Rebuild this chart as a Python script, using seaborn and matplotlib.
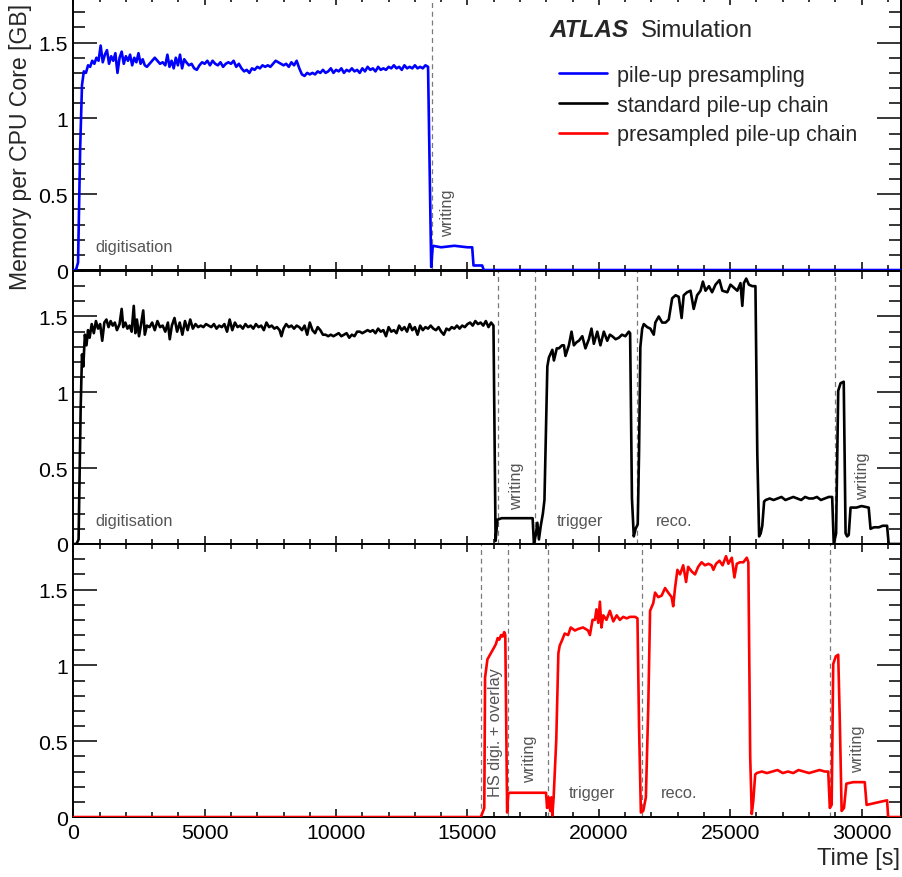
import matplotlib
matplotlib.use("Agg")
import matplotlib.pyplot as plt
import seaborn as sns
from matplotlib.lines import Line2D
from matplotlib.ticker import MultipleLocator, FuncFormatter

# --- pile-up presampling (top panel) ---
t_pre = [0, 100, 180, 260, 330, 400, 480, 560, 640, 720,
         800, 880, 960, 1040, 1120, 1200, 1280, 1360, 1440, 1520,
         1600, 1680, 1760, 1840, 1920, 2000, 2080, 2160, 2240, 2320,
         2400, 2480, 2560, 2640, 2720, 2800, 2900, 3000, 3100, 3200,
         3300, 3400, 3500, 3580, 3660, 3740, 3820, 3900, 3980, 4060,
         4140, 4220, 4300, 4400, 4500, 4600, 4700, 4800, 4900, 5000,
         5100, 5200, 5300, 5400, 5500, 5600, 5700, 5800, 5900, 6000,
         6100, 6200, 6300, 6400, 6500, 6600, 6700, 6800, 6900, 7000,
         7100, 7200, 7300, 7400, 7500, 7600, 7700, 7800, 7900, 8000,
         8100, 8200, 8300, 8400, 8500, 8600, 8700, 8800, 8900, 9000,
         9100, 9200, 9300, 9400, 9500, 9600, 9700, 9800, 9900, 10000,
         10100, 10200, 10300, 10400, 10500, 10600, 10700, 10800, 10900, 11000,
         11100, 11200, 11300, 11400, 11500, 11600, 11700, 11800, 11900, 12000,
         12100, 12200, 12300, 12400, 12500, 12600, 12700, 12800, 12900, 13000,
         13100, 13200, 13300, 13400, 13500, 13620, 13680, 14000, 14500, 15000,
         15180, 15230, 15560, 15620, 31500]
mem_pre = [0.00, 0.00, 0.05, 0.80, 1.22, 1.31, 1.30, 1.35, 1.34, 1.38,
           1.36, 1.40, 1.38, 1.48, 1.37, 1.42, 1.45, 1.36, 1.41, 1.38,
           1.43, 1.30, 1.40, 1.44, 1.36, 1.41, 1.38, 1.42, 1.35, 1.40,
           1.37, 1.43, 1.36, 1.39, 1.35, 1.34, 1.36, 1.38, 1.40, 1.38,
           1.36, 1.37, 1.35, 1.42, 1.34, 1.38, 1.33, 1.40, 1.35, 1.42,
           1.33, 1.39, 1.37, 1.35, 1.36, 1.33, 1.32, 1.35, 1.37, 1.36,
           1.38, 1.35, 1.38, 1.36, 1.35, 1.37, 1.34, 1.36, 1.37, 1.36,
           1.38, 1.34, 1.36, 1.33, 1.31, 1.32, 1.30, 1.33, 1.32, 1.34,
           1.33, 1.35, 1.34, 1.35, 1.34, 1.36, 1.38, 1.37, 1.36, 1.35,
           1.36, 1.34, 1.37, 1.35, 1.38, 1.33, 1.29, 1.28, 1.30, 1.29,
           1.30, 1.29, 1.31, 1.30, 1.32, 1.30, 1.31, 1.33, 1.30, 1.32,
           1.31, 1.33, 1.30, 1.32, 1.31, 1.33, 1.31, 1.32, 1.30, 1.33,
           1.31, 1.34, 1.32, 1.33, 1.31, 1.34, 1.32, 1.33, 1.32, 1.34,
           1.33, 1.35, 1.33, 1.34, 1.32, 1.35, 1.33, 1.34, 1.33, 1.35,
           1.33, 1.34, 1.33, 1.35, 1.34, 0.02, 0.16, 0.15, 0.16, 0.15,
           0.15, 0.03, 0.03, 0.00, 0.00]

# --- standard pile-up chain (middle panel) ---
t_std = [0, 120, 200, 280, 330, 380, 440, 500, 560, 620,
         700, 780, 860, 940, 1020, 1100, 1180, 1260, 1340, 1420,
         1500, 1580, 1660, 1760, 1840, 1900, 1980, 2060, 2140, 2220,
         2300, 2360, 2420, 2500, 2580, 2660, 2720, 2800, 2900, 3000,
         3100, 3200, 3300, 3400, 3500, 3600, 3670, 3750, 3850, 3950,
         4050, 4150, 4250, 4350, 4450, 4550, 4650, 4750, 4850, 4950,
         5050, 5150, 5250, 5350, 5450, 5550, 5650, 5750, 5850, 5950,
         6050, 6150, 6250, 6350, 6450, 6550, 6650, 6750, 6850, 6950,
         7050, 7150, 7250, 7350, 7450, 7550, 7650, 7750, 7850, 7920,
         8000, 8100, 8200, 8300, 8400, 8500, 8600, 8700, 8800, 8900,
         9000, 9100, 9200, 9300, 9400, 9500, 9600, 9700, 9800, 9900,
         10000, 10100, 10200, 10300, 10400, 10500, 10600, 10700, 10800, 10900,
         11000, 11100, 11200, 11300, 11400, 11500, 11600, 11700, 11800, 11900,
         12000, 12100, 12200, 12300, 12400, 12500, 12600, 12700, 12800, 12900,
         13000, 13100, 13200, 13300, 13400, 13500, 13600, 13700, 13800, 13900,
         14000, 14100, 14200, 14300, 14400, 14500, 14600, 14700, 14800, 14900,
         15000, 15100, 15200, 15300, 15400, 15500, 15600, 15700, 15800, 15900,
         15990, 16070, 16140, 16300, 16600, 16900, 17200, 17480, 17530, 17600,
         17660, 17720, 17790, 17870, 17930, 18040, 18100, 18230, 18290, 18400,
         18480, 18600, 18670, 18730, 18860, 18960, 19050, 19150, 19240, 19370,
         19490, 19620, 19720, 19810, 19940, 20060, 20190, 20320, 20420, 20510,
         20640, 20760, 20880, 21010, 21140, 21190, 21260, 21330, 21400, 21480,
         21530, 21580, 21650, 21710, 21840, 21960, 22090, 22150, 22280, 22410,
         22540, 22660, 22790, 22920, 23040, 23150, 23230, 23360, 23490, 23610,
         23740, 23870, 23960, 24060, 24190, 24310, 24440, 24590, 24700, 24890,
         25010, 25140, 25270, 25390, 25460, 25520, 25610, 25710, 25840, 25960,
         26030, 26100, 26160, 26220, 26290, 26350, 26500, 26650, 26800, 26950,
         27100, 27250, 27400, 27550, 27700, 27850, 28000, 28150, 28300, 28450,
         28600, 28750, 28880, 28940, 29030, 29110, 29200, 29320, 29390, 29450,
         29510, 29580, 29800, 30000, 30270, 30340, 30470, 30660, 30800, 30970,
         31030, 31500]
mem_std = [0.00, 0.00, 0.03, 0.90, 1.25, 1.17, 1.38, 1.31, 1.41, 1.36,
           1.45, 1.39, 1.47, 1.42, 1.45, 1.34, 1.46, 1.48, 1.43, 1.47,
           1.44, 1.46, 1.41, 1.45, 1.55, 1.43, 1.46, 1.42, 1.44, 1.40,
           1.57, 1.39, 1.48, 1.37, 1.45, 1.54, 1.38, 1.44, 1.43, 1.46,
           1.41, 1.47, 1.43, 1.44, 1.40, 1.46, 1.35, 1.44, 1.49, 1.40,
           1.46, 1.38, 1.47, 1.41, 1.48, 1.42, 1.45, 1.43, 1.44, 1.43,
           1.45, 1.44, 1.43, 1.45, 1.42, 1.44, 1.43, 1.45, 1.40, 1.48,
           1.41, 1.46, 1.43, 1.44, 1.42, 1.45, 1.43, 1.44, 1.42, 1.45,
           1.43, 1.44, 1.41, 1.46, 1.43, 1.44, 1.42, 1.43, 1.41, 1.37,
           1.42, 1.45, 1.43, 1.44, 1.42, 1.44, 1.43, 1.41, 1.44, 1.38,
           1.46, 1.41, 1.39, 1.43, 1.41, 1.38, 1.38, 1.37, 1.38, 1.37,
           1.38, 1.39, 1.37, 1.38, 1.39, 1.36, 1.38, 1.37, 1.40, 1.40,
           1.39, 1.40, 1.41, 1.40, 1.41, 1.39, 1.42, 1.40, 1.41, 1.37,
           1.43, 1.40, 1.41, 1.39, 1.44, 1.41, 1.43, 1.40, 1.45, 1.41,
           1.43, 1.38, 1.44, 1.41, 1.43, 1.42, 1.44, 1.42, 1.41, 1.43,
           1.40, 1.38, 1.42, 1.41, 1.43, 1.42, 1.44, 1.42, 1.44, 1.43,
           1.45, 1.46, 1.44, 1.47, 1.45, 1.46, 1.44, 1.47, 1.43, 1.46,
           1.44, 0.02, 0.16, 0.17, 0.17, 0.17, 0.17, 0.17, 0.00, 0.06,
           0.14, 0.03, 0.12, 0.20, 0.29, 1.17, 1.23, 1.28, 1.21, 1.29,
           1.29, 1.31, 1.31, 1.24, 1.31, 1.40, 1.31, 1.33, 1.34, 1.37,
           1.29, 1.35, 1.42, 1.32, 1.40, 1.31, 1.40, 1.34, 1.38, 1.37,
           1.35, 1.36, 1.38, 1.37, 1.40, 1.39, 0.30, 0.05, 0.10, 0.13,
           0.60, 1.30, 1.42, 1.45, 1.43, 1.42, 1.38, 1.46, 1.50, 1.46,
           1.46, 1.48, 1.62, 1.64, 1.63, 1.49, 1.64, 1.66, 1.67, 1.55,
           1.64, 1.67, 1.73, 1.67, 1.70, 1.66, 1.71, 1.74, 1.67, 1.66,
           1.71, 1.69, 1.67, 1.72, 1.57, 1.72, 1.75, 1.71, 1.70, 1.70,
           0.60, 0.05, 0.07, 0.12, 0.28, 0.29, 0.30, 0.29, 0.30, 0.31,
           0.29, 0.30, 0.31, 0.30, 0.29, 0.31, 0.30, 0.30, 0.31, 0.29,
           0.30, 0.31, 0.31, 0.00, 0.07, 1.01, 1.06, 1.07, 0.07, 0.05,
           0.06, 0.24, 0.24, 0.25, 0.24, 0.10, 0.11, 0.11, 0.12, 0.12,
           0.00, 0.00]

# --- presampled pile-up chain (bottom panel) ---
t_pres = [0, 15510, 15640, 15670, 15760, 15890, 16020, 16080, 16150, 16210,
          16280, 16340, 16400, 16440, 16480, 16510, 16550, 16600, 16900, 17200,
          17500, 17800, 17990, 18030, 18090, 18150, 18190, 18230, 18280, 18380,
          18460, 18510, 18610, 18700, 18830, 18930, 19090, 19210, 19400, 19590,
          19660, 19760, 19850, 19910, 19980, 20040, 20100, 20170, 20290, 20420,
          20550, 20680, 20800, 20930, 21060, 21190, 21380, 21470, 21530, 21600,
          21690, 21790, 21880, 21950, 22070, 22140, 22260, 22390, 22520, 22640,
          22770, 22830, 22900, 22990, 23090, 23210, 23320, 23400, 23530, 23660,
          23780, 23910, 24040, 24170, 24290, 24360, 24460, 24590, 24710, 24840,
          24930, 25060, 25160, 25250, 25370, 25500, 25630, 25690, 25760, 25820,
          25880, 25950, 26010, 26200, 26400, 26600, 26800, 27000, 27200, 27400,
          27600, 27800, 28000, 28200, 28400, 28600, 28730, 28790, 28860, 28920,
          29020, 29110, 29170, 29240, 29330, 29420, 29680, 29900, 30120, 30190,
          30440, 30700, 30970, 31010, 31500]
mem_pres = [0.00, 0.00, 0.06, 0.92, 1.04, 1.08, 1.12, 1.14, 1.18, 1.17,
            1.20, 1.19, 1.22, 1.20, 0.50, 0.03, 0.15, 0.16, 0.16, 0.16,
            0.16, 0.16, 0.16, 0.06, 0.13, 0.04, 0.13, 0.01, 0.13, 0.51,
            1.08, 1.13, 1.17, 1.21, 1.20, 1.25, 1.23, 1.24, 1.25, 1.23,
            1.20, 1.30, 1.30, 1.37, 1.28, 1.42, 1.25, 1.33, 1.30, 1.36,
            1.29, 1.33, 1.30, 1.32, 1.31, 1.32, 1.32, 1.31, 0.60, 0.03,
            0.04, 0.13, 0.72, 1.36, 1.41, 1.48, 1.45, 1.46, 1.51, 1.48,
            1.45, 1.39, 1.51, 1.63, 1.60, 1.66, 1.55, 1.65, 1.62, 1.60,
            1.65, 1.68, 1.66, 1.67, 1.66, 1.63, 1.67, 1.69, 1.66, 1.72,
            1.67, 1.71, 1.58, 1.67, 1.68, 1.68, 1.71, 1.68, 0.40, 0.02,
            0.11, 0.28, 0.29, 0.30, 0.29, 0.30, 0.31, 0.29, 0.30, 0.29,
            0.31, 0.30, 0.29, 0.30, 0.31, 0.30, 0.30, 0.06, 0.08, 1.01,
            1.06, 1.07, 0.64, 0.04, 0.06, 0.22, 0.23, 0.23, 0.23, 0.08,
            0.09, 0.10, 0.11, 0.00, 0.00]

# phase boundaries (dashed lines) per panel
bounds_pre = [13640]
bounds_std = [16170, 17580, 21460, 28980]
bounds_pres = [15510, 16550, 18050, 21650, 28790]

# phase labels: (text, x, y, vertical?)
labels_pre = [("digitisation", 830, 0.127, False), ("writing", 14410, 0.226, True)]
labels_std = [("digitisation", 830, 0.127, False), ("writing", 17035, 0.23, True),
              ("trigger", 18390, 0.127, False), ("reco.", 22170, 0.127, False),
              ("writing", 30200, 0.296, True)]
labels_pres = [("HS digi. + overlay", 16237, 0.14, True), ("writing", 17550, 0.233, True),
               ("trigger", 18840, 0.13, False), ("reco.", 22350, 0.13, False),
               ("writing", 30010, 0.295, True)]

series_names = ["pile-up presampling", "standard pile-up chain", "presampled pile-up chain"]
series_colors = ["blue", "black", "red"]

sns.set_style("ticks")
plt.rcParams["font.family"] = ["Liberation Sans", "DejaVu Sans"]

fig = plt.figure(figsize=(9.03, 8.78), dpi=100)
left, width, height = 0.0812, 0.9166, 0.3109
bottoms = [0.6913, 0.3793, 0.0683]
axes = [fig.add_axes([left, b, width, height]) for b in bottoms]

panels = [(t_pre, mem_pre, bounds_pre, labels_pre),
          (t_std, mem_std, bounds_std, labels_std),
          (t_pres, mem_pres, bounds_pres, labels_pres)]

for i, (ax, (t, m, bounds, labels), col) in enumerate(zip(axes, panels, series_colors)):
    for b in bounds:
        ax.axvline(b, color="#7a7a7a", lw=0.9, ls=(0, (4, 3)), zorder=1)
    sns.lineplot(x=t, y=m, ax=ax, color=col, linewidth=1.9, legend=False, zorder=3)
    for txt, x, y, vert in labels:
        if vert:
            ax.text(x, y, txt, rotation=90, rotation_mode="anchor", ha="left",
                    va="baseline", fontsize=11.8, color="#555555")
        else:
            ax.text(x, y, txt, ha="left", va="baseline", fontsize=11.8, color="#555555")

    ax.set_xlim(0, 31500)
    ax.set_ylim(0, 1.8)
    ax.set_xlabel("")
    ax.set_ylabel("")
    ax.set_facecolor("white")
    for sp in ax.spines.values():
        sp.set_linewidth(1.4)
        sp.set_color("black")
    ax.xaxis.set_major_locator(MultipleLocator(5000))
    ax.xaxis.set_minor_locator(MultipleLocator(1000))
    ax.yaxis.set_major_locator(MultipleLocator(0.5))
    ax.yaxis.set_minor_locator(MultipleLocator(0.1))
    ax.xaxis.set_major_formatter(FuncFormatter(lambda v, p: f"{v:g}"))
    ax.yaxis.set_major_formatter(FuncFormatter(lambda v, p: f"{v:g}"))
    ax.tick_params(which="both", direction="in", top=True, right=True,
                   width=1.1, color="black", labelsize=15.3, labelcolor="black")
    ax.tick_params(axis="x", which="major", length=6, pad=4)
    ax.tick_params(axis="x", which="minor", length=3.5)
    ax.tick_params(axis="y", which="major", length=17, pad=4)
    ax.tick_params(axis="y", which="minor", length=8.5)
    if i < 2:
        ax.tick_params(labelbottom=False)

handles = [Line2D([], [], color=c, lw=1.9) for c in series_colors]
axes[0].legend(handles, series_names, loc="upper left",
               bbox_to_anchor=(559 / 903, (878 - 66) / 878), bbox_transform=fig.transFigure,
               frameon=False, fontsize=15.5, handlelength=2.25, handletextpad=0.45,
               labelspacing=0.4, borderpad=0, borderaxespad=0)

fig.text(550 / 903, (878 - 37.3) / 878, "ATLAS", fontsize=17.5, fontweight="bold",
         style="italic", va="baseline")
fig.text(641 / 903, (878 - 37.3) / 878, "Simulation", fontsize=17.3, va="baseline")
fig.text(21 / 903, (878 - 290) / 878, "Memory per CPU Core [GB]", rotation=90,
         ha="center", va="bottom", fontsize=16.6)
fig.text(900 / 903, 13 / 878, "Time [s]", ha="right", va="baseline", fontsize=17)

fig.savefig("out.png", dpi=100)
